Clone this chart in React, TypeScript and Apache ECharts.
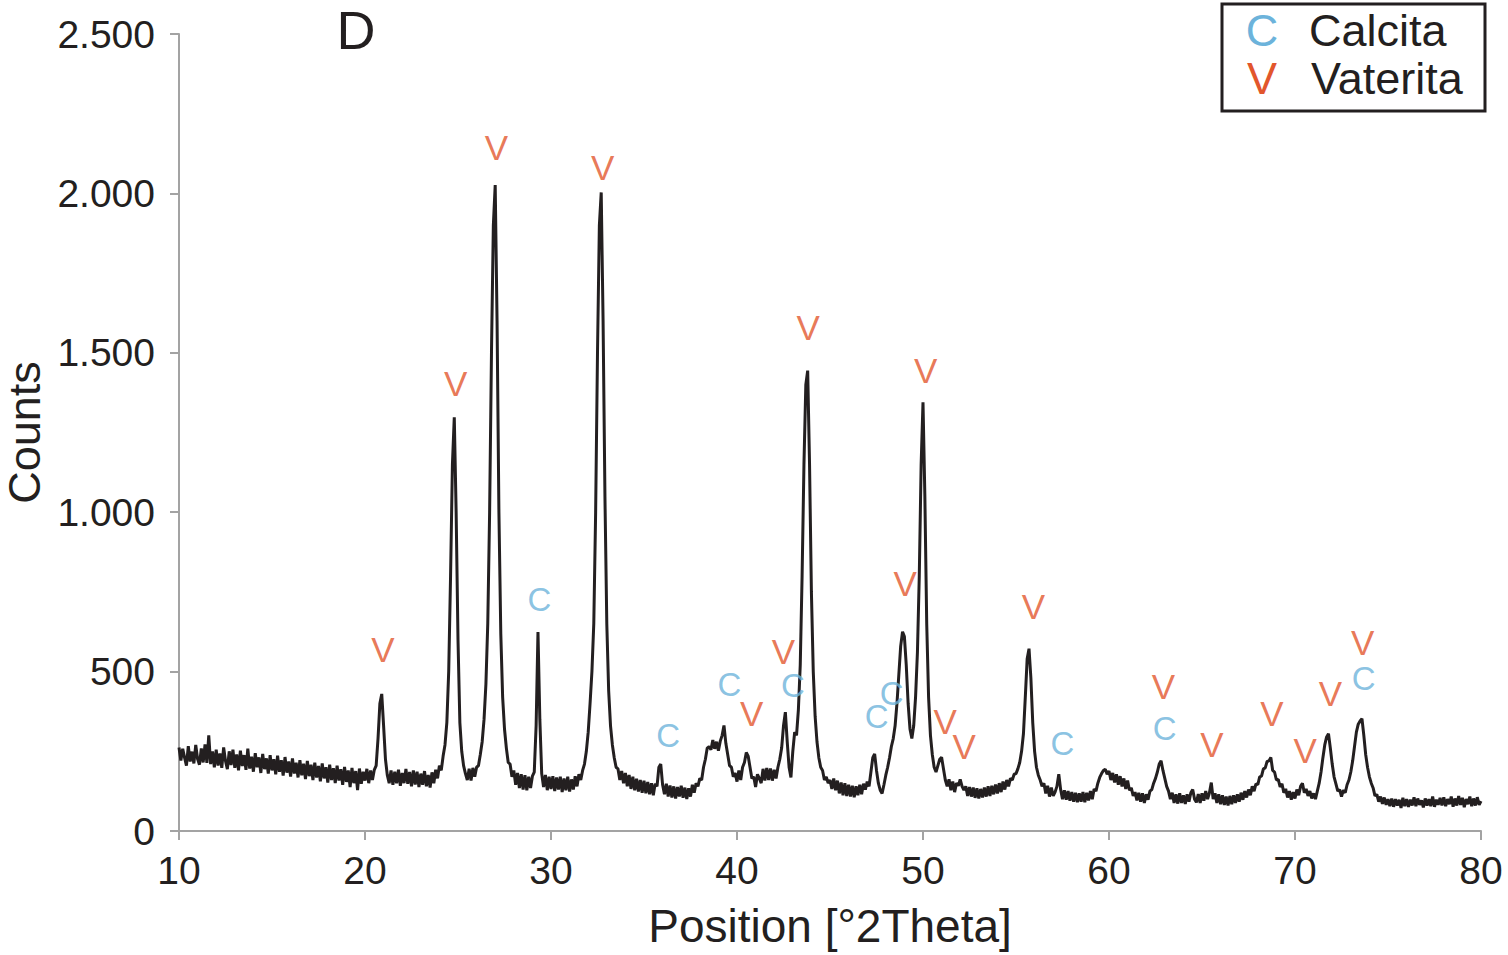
import React, { useEffect, useRef } from "react";
import * as echarts from "echarts";

const FONT = '"Liberation Sans", Arial, Helvetica, sans-serif';
const INK = "#231F20";
const AXIS_GRAY = "#A3A3A3";
const V_COLOR = "#E2562C";
const C_COLOR = "#6CB3DB";

const counts10 = [
  262, 221, 258, 230, 205, 266, 218, 249, 212, 270,
  226, 208, 259, 215, 272, 214, 300, 210, 250, 200,
  255, 205, 243, 198, 262, 220, 194, 250, 207, 255,
  198, 240, 190, 252, 204, 238, 192, 258, 196, 233,
  186, 244, 200, 231, 182, 242, 194, 228, 180, 238,
  190, 225, 178, 236, 186, 222, 174, 232, 183, 218,
  171, 228, 180, 214, 168, 222, 175, 211, 163, 220,
  172, 208, 160, 214, 168, 204, 156, 212, 165, 200,
  152, 208, 160, 197, 150, 205, 158, 194, 145, 201,
  154, 190, 138, 198, 150, 188, 128, 196, 148, 186,
];
const counts20 = [
  158, 195, 150, 190, 160, 192, 205, 290, 400, 430,
  330, 225, 175, 150, 190, 145, 186, 150, 192, 142,
  182, 150, 195, 148, 185, 140, 190, 146, 186, 138,
  180, 145, 188, 140, 176, 136, 184, 150, 192, 165,
  205, 190, 235, 270, 340, 500, 800, 1150, 1298, 1000,
  600, 340, 250, 205, 180, 160, 195, 158, 198, 170,
  200, 205, 240, 280, 350, 460, 650, 1000, 1500, 1900,
  2026, 1600, 1000, 620, 420, 320, 260, 215, 210, 170,
  190, 145, 182, 135, 178, 130, 175, 128, 170, 135,
  172, 185, 330, 624, 350, 180, 138, 176, 128, 170,
];
const counts30 = [
  132, 172, 125, 168, 130, 170, 122, 165, 128, 170,
  124, 162, 130, 172, 140, 178, 160, 190, 210, 250,
  310, 400, 500, 650, 1000, 1500, 1900, 2003, 1600, 1050,
  650, 440, 330, 270, 230, 200, 195, 160, 188, 150,
  182, 140, 176, 132, 170, 128, 164, 124, 160, 120,
  158, 118, 154, 115, 150, 112, 148, 140, 200, 210,
  145, 115, 148, 108, 143, 105, 140, 102, 138, 108,
  142, 104, 136, 100, 134, 108, 145, 120, 150, 140,
  165, 160, 200, 225, 260, 265, 255, 285, 258, 280,
  252, 282, 300, 331, 275, 240, 205, 200, 170, 182,
];
const counts40 = [
  155, 190, 160, 200, 215, 246, 235, 200, 165, 170,
  138, 178, 165, 150, 195, 158, 198, 160, 196, 158,
  192, 165, 200, 225, 260, 330, 373, 280, 200, 168,
  250, 310, 300, 380, 520, 800, 1150, 1400, 1444, 1150,
  750, 500, 360, 280, 230, 200, 190, 160, 170, 150,
  160, 132, 165, 128, 158, 118, 152, 112, 150, 110,
  145, 108, 142, 106, 140, 112, 145, 115, 148, 130,
  155, 140, 185, 230, 242, 190, 150, 128, 118, 145,
  175, 200, 230, 265, 290, 330, 400, 490, 580, 625,
  610, 520, 400, 320, 290, 330, 420, 560, 800, 1150,
];
const counts50 = [
  1345, 1050, 650, 420, 300, 240, 200, 185, 205, 225,
  231, 195, 160, 140, 162, 128, 155, 122, 150, 142,
  162, 140, 128, 140, 110, 138, 108, 136, 104, 134,
  102, 132, 105, 136, 108, 140, 110, 142, 115, 146,
  118, 150, 122, 155, 130, 160, 140, 165, 160, 178,
  180, 195, 215, 250, 305, 420, 540, 572, 480, 340,
  250, 200, 175, 160, 140, 150, 118, 142, 108, 136,
  110, 122, 140, 178, 130, 100, 128, 98, 125, 95,
  122, 92, 120, 90, 118, 92, 122, 90, 120, 96,
  125, 100, 132, 125, 150, 168, 180, 190, 194, 178,
];
const counts60 = [
  188, 160, 182, 152, 178, 145, 172, 140, 165, 132,
  158, 128, 135, 110, 122, 96, 120, 92, 118, 88,
  115, 98, 125, 130, 150, 165, 185, 210, 220, 190,
  165, 140, 125, 100, 120, 88, 115, 86, 118, 88,
  112, 85, 115, 92, 120, 130, 100, 90, 116, 88,
  118, 95, 125, 100, 120, 152, 100, 118, 88, 115,
  84, 112, 82, 108, 80, 110, 84, 112, 88, 115,
  92, 120, 98, 125, 105, 130, 112, 140, 125, 148,
  145, 170, 172, 195, 198, 218, 220, 231, 190, 185,
  160, 162, 138, 148, 120, 132, 105, 125, 98, 122,
];
const counts70 = [
  102, 130, 112, 140, 150, 120, 132, 110, 125, 102,
  118, 100, 125, 150, 185, 230, 270, 295, 305, 260,
  210, 170, 148, 125, 130, 108, 128, 120, 145, 160,
  185, 220, 265, 310, 335, 345, 352, 300, 240, 200,
  170, 150, 135, 110, 115, 92, 108, 85, 105, 82,
  100, 78, 102, 76, 100, 80, 98, 72, 104, 78,
  100, 76, 98, 80, 106, 78, 102, 82, 96, 74,
  102, 80, 100, 78, 108, 76, 98, 82, 104, 80,
  106, 78, 100, 84, 108, 76, 102, 80, 110, 82,
  104, 75, 100, 84, 108, 78, 102, 80, 106, 82, 94,
];
const segmentStarts = [10, 20, 30, 40, 50, 60, 70];
const segments = [counts10, counts20, counts30, counts40, counts50, counts60, counts70];
const stepDeg = 0.1;

// Peak markers [°2Theta, counts]
const vateritaMarks: [number, number][] = [
  [20.96, 568], [24.88, 1405], [27.07, 2143], [32.78, 2080], [40.79, 369],
  [42.49, 564], [43.82, 1578], [49.04, 777], [50.15, 1444], [51.19, 343],
  [52.21, 264], [55.94, 704], [62.93, 453], [65.54, 270], [68.76, 369],
  [70.55, 254], [71.9, 432], [73.64, 591],
];
const calcitaMarks: [number, number][] = [
  [29.38, 725], [36.3, 301], [39.59, 458], [43.0, 456], [47.51, 359],
  [48.32, 432], [57.5, 275], [62.99, 322], [73.69, 477],
];

const xTicks = { min: 10, max: 80, interval: 10 };
const yTicks = { min: 0, max: 2500, interval: 500 };

function fmtThousands(v: number): string {
  if (v >= 1000) {
    const k = Math.floor(v / 1000);
    const r = String(v % 1000).padStart(3, "0");
    return `${k}.${r}`;
  }
  return String(v);
}

export default function App() {
  const ref = useRef<HTMLDivElement>(null);

  useEffect(() => {
    if (!ref.current) return;
    const chart = echarts.init(ref.current, undefined, { renderer: "svg" });

    const spectrum: [number, number][] = [];
    segments.forEach((seg, si) => {
      seg.forEach((c, i) => {
        const x = Math.round((segmentStarts[si] + i * stepDeg) * 10) / 10;
        spectrum.push([x, c]);
      });
    });

    const markLabel = (letter: string, color: string, size: number) => ({
      show: true,
      position: "inside" as const,
      formatter: letter,
      color,
      fontSize: size,
      lineHeight: size,
      fontFamily: FONT,
    });

    const legendText = (text: string, x: number, y: number, color: string, align: string) => ({
      type: "text",
      x,
      y,
      style: {
        text,
        fill: color,
        fontSize: 45,
        fontFamily: FONT,
        align,
        verticalAlign: "middle",
        textAlign: align,
        textVerticalAlign: "middle",
      },
    });

    chart.setOption({
      animation: false,
      backgroundColor: "#ffffff",
      textStyle: { fontFamily: FONT },
      grid: {
        left: 179,
        right: 27,
        top: 34,
        bottom: 124,
        containLabel: false,
        outerBoundsMode: "none",
      },
      xAxis: {
        type: "value",
        min: xTicks.min,
        max: xTicks.max,
        interval: xTicks.interval,
        name: "Position [°2Theta]",
        nameLocation: "middle",
        nameGap: 72,
        nameTextStyle: { fontSize: 46, color: INK, fontFamily: FONT },
        axisLine: { lineStyle: { color: AXIS_GRAY, width: 2 } },
        axisTick: { length: 9, lineStyle: { color: AXIS_GRAY, width: 2 } },
        axisLabel: { fontSize: 39, color: INK, margin: 20, fontFamily: FONT },
        splitLine: { show: false },
      },
      yAxis: {
        type: "value",
        min: yTicks.min,
        max: yTicks.max,
        interval: yTicks.interval,
        name: "Counts",
        nameLocation: "middle",
        nameGap: 123,
        nameTextStyle: { fontSize: 45, lineHeight: 40, color: INK, fontFamily: FONT },
        axisLine: { show: true, lineStyle: { color: AXIS_GRAY, width: 2 } },
        axisTick: { show: true, length: 9, lineStyle: { color: AXIS_GRAY, width: 2 } },
        axisLabel: {
          fontSize: 39,
          color: INK,
          margin: 24,
          fontFamily: FONT,
          formatter: (v: number) => fmtThousands(v),
        },
        splitLine: { show: false },
      },
      series: [
        {
          name: "Pattern",
          type: "line",
          data: spectrum,
          showSymbol: false,
          symbol: "none",
          lineStyle: { color: INK, width: 3 },
          z: 2,
        },
        {
          name: "Vaterita",
          type: "scatter",
          data: vateritaMarks,
          symbolSize: 1,
          itemStyle: { color: "rgba(0,0,0,0)" },
          label: markLabel("V", V_COLOR, 35),
          silent: true,
          z: 3,
        },
        {
          name: "Calcita",
          type: "scatter",
          data: calcitaMarks,
          symbolSize: 1,
          itemStyle: { color: "rgba(0,0,0,0)" },
          label: markLabel("C", C_COLOR, 33),
          silent: true,
          z: 3,
        },
      ],
      graphic: [
        {
          type: "text",
          x: 356,
          y: 30,
          style: {
            text: "D",
            fill: INK,
            fontSize: 54,
            fontFamily: FONT,
            align: "center",
            verticalAlign: "middle",
            textAlign: "center",
            textVerticalAlign: "middle",
          },
        },
        {
          type: "rect",
          shape: { x: 1222, y: 4, width: 263, height: 107 },
          style: { fill: "#ffffff", stroke: INK, lineWidth: 3 },
        },
        legendText("C", 1262, 30.5, C_COLOR, "center"),
        legendText("Calcita", 1309, 30.5, INK, "left"),
        legendText("V", 1262, 78, V_COLOR, "center"),
        legendText("Vaterita", 1311, 78, INK, "left"),
      ],
    });

    return () => chart.dispose();
  }, []);

  return (
    <div
      ref={ref}
      style={{ position: "fixed", left: 0, top: 0, width: 1508, height: 955, background: "#fff" }}
    />
  );
}
